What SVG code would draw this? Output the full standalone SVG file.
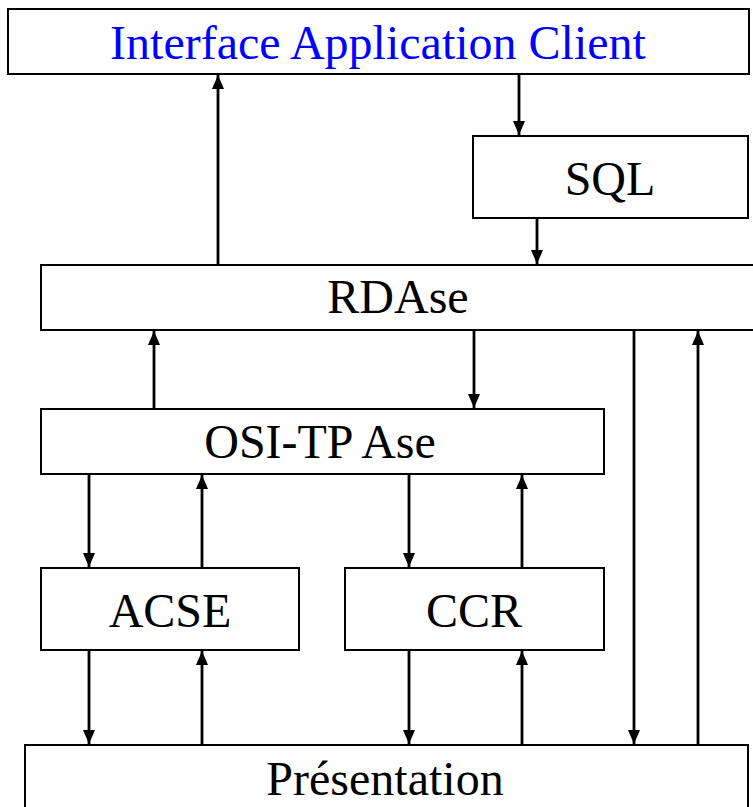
<svg xmlns="http://www.w3.org/2000/svg" width="753" height="807" viewBox="0 0 753 807">
<style>
.box{fill:#fff;stroke:#000;stroke-width:2}
.lbl{font-family:"Liberation Serif","Times New Roman",serif;font-size:48px;fill:#000;text-anchor:middle}
.blue{fill:#0000ff}
.con line{stroke:#000;stroke-width:2.8;fill:none;marker-end:url(#ah)}
</style>
<defs>
<marker id="ah" markerUnits="userSpaceOnUse" markerWidth="15" markerHeight="13" refX="14" refY="6.5" orient="auto">
<path d="M0,0.5 L14,6.5 L0,12.5 z" fill="#000"/>
</marker>
</defs>
<rect width="753" height="807" fill="#fff"/>
<g id="client">
<rect class="box" x="8" y="9" width="741" height="65"/>
<text class="lbl blue" x="378" y="59">Interface Application Client</text>
</g>
<g id="sql">
<rect class="box" x="473" y="136" width="275" height="82"/>
<text class="lbl" x="610" y="195">SQL</text>
</g>
<g id="rdase">
<rect class="box" x="41" y="265" width="730" height="65"/>
<text class="lbl" x="398" y="313">RDAse</text>
</g>
<g id="ositp">
<rect class="box" x="41" y="409" width="563" height="65"/>
<text class="lbl" x="320" y="458">OSI-TP Ase</text>
</g>
<g id="acse">
<rect class="box" x="41" y="568" width="258" height="82"/>
<text class="lbl" x="170" y="627">ACSE</text>
</g>
<g id="ccr">
<rect class="box" x="345" y="568" width="259" height="82"/>
<text class="lbl" x="474" y="627">CCR</text>
</g>
<g id="presentation">
<rect class="box" x="25" y="745" width="723" height="90"/>
<text class="lbl" x="385" y="795">Présentation</text>
</g>
<g id="connectors" class="con">
<line x1="218" y1="265" x2="218" y2="75"/>
<line x1="519" y1="74" x2="519" y2="135"/>
<line x1="537" y1="218" x2="537" y2="264"/>
<line x1="154" y1="409" x2="154" y2="331"/>
<line x1="474" y1="330" x2="474" y2="408"/>
<line x1="634" y1="330" x2="634" y2="744"/>
<line x1="698" y1="745" x2="698" y2="331"/>
<line x1="89" y1="474" x2="89" y2="567"/>
<line x1="202" y1="568" x2="202" y2="475"/>
<line x1="409" y1="474" x2="409" y2="567"/>
<line x1="522" y1="568" x2="522" y2="475"/>
<line x1="89" y1="650" x2="89" y2="744"/>
<line x1="202" y1="745" x2="202" y2="651"/>
<line x1="409" y1="650" x2="409" y2="744"/>
<line x1="522" y1="745" x2="522" y2="651"/>
</g>
</svg>
